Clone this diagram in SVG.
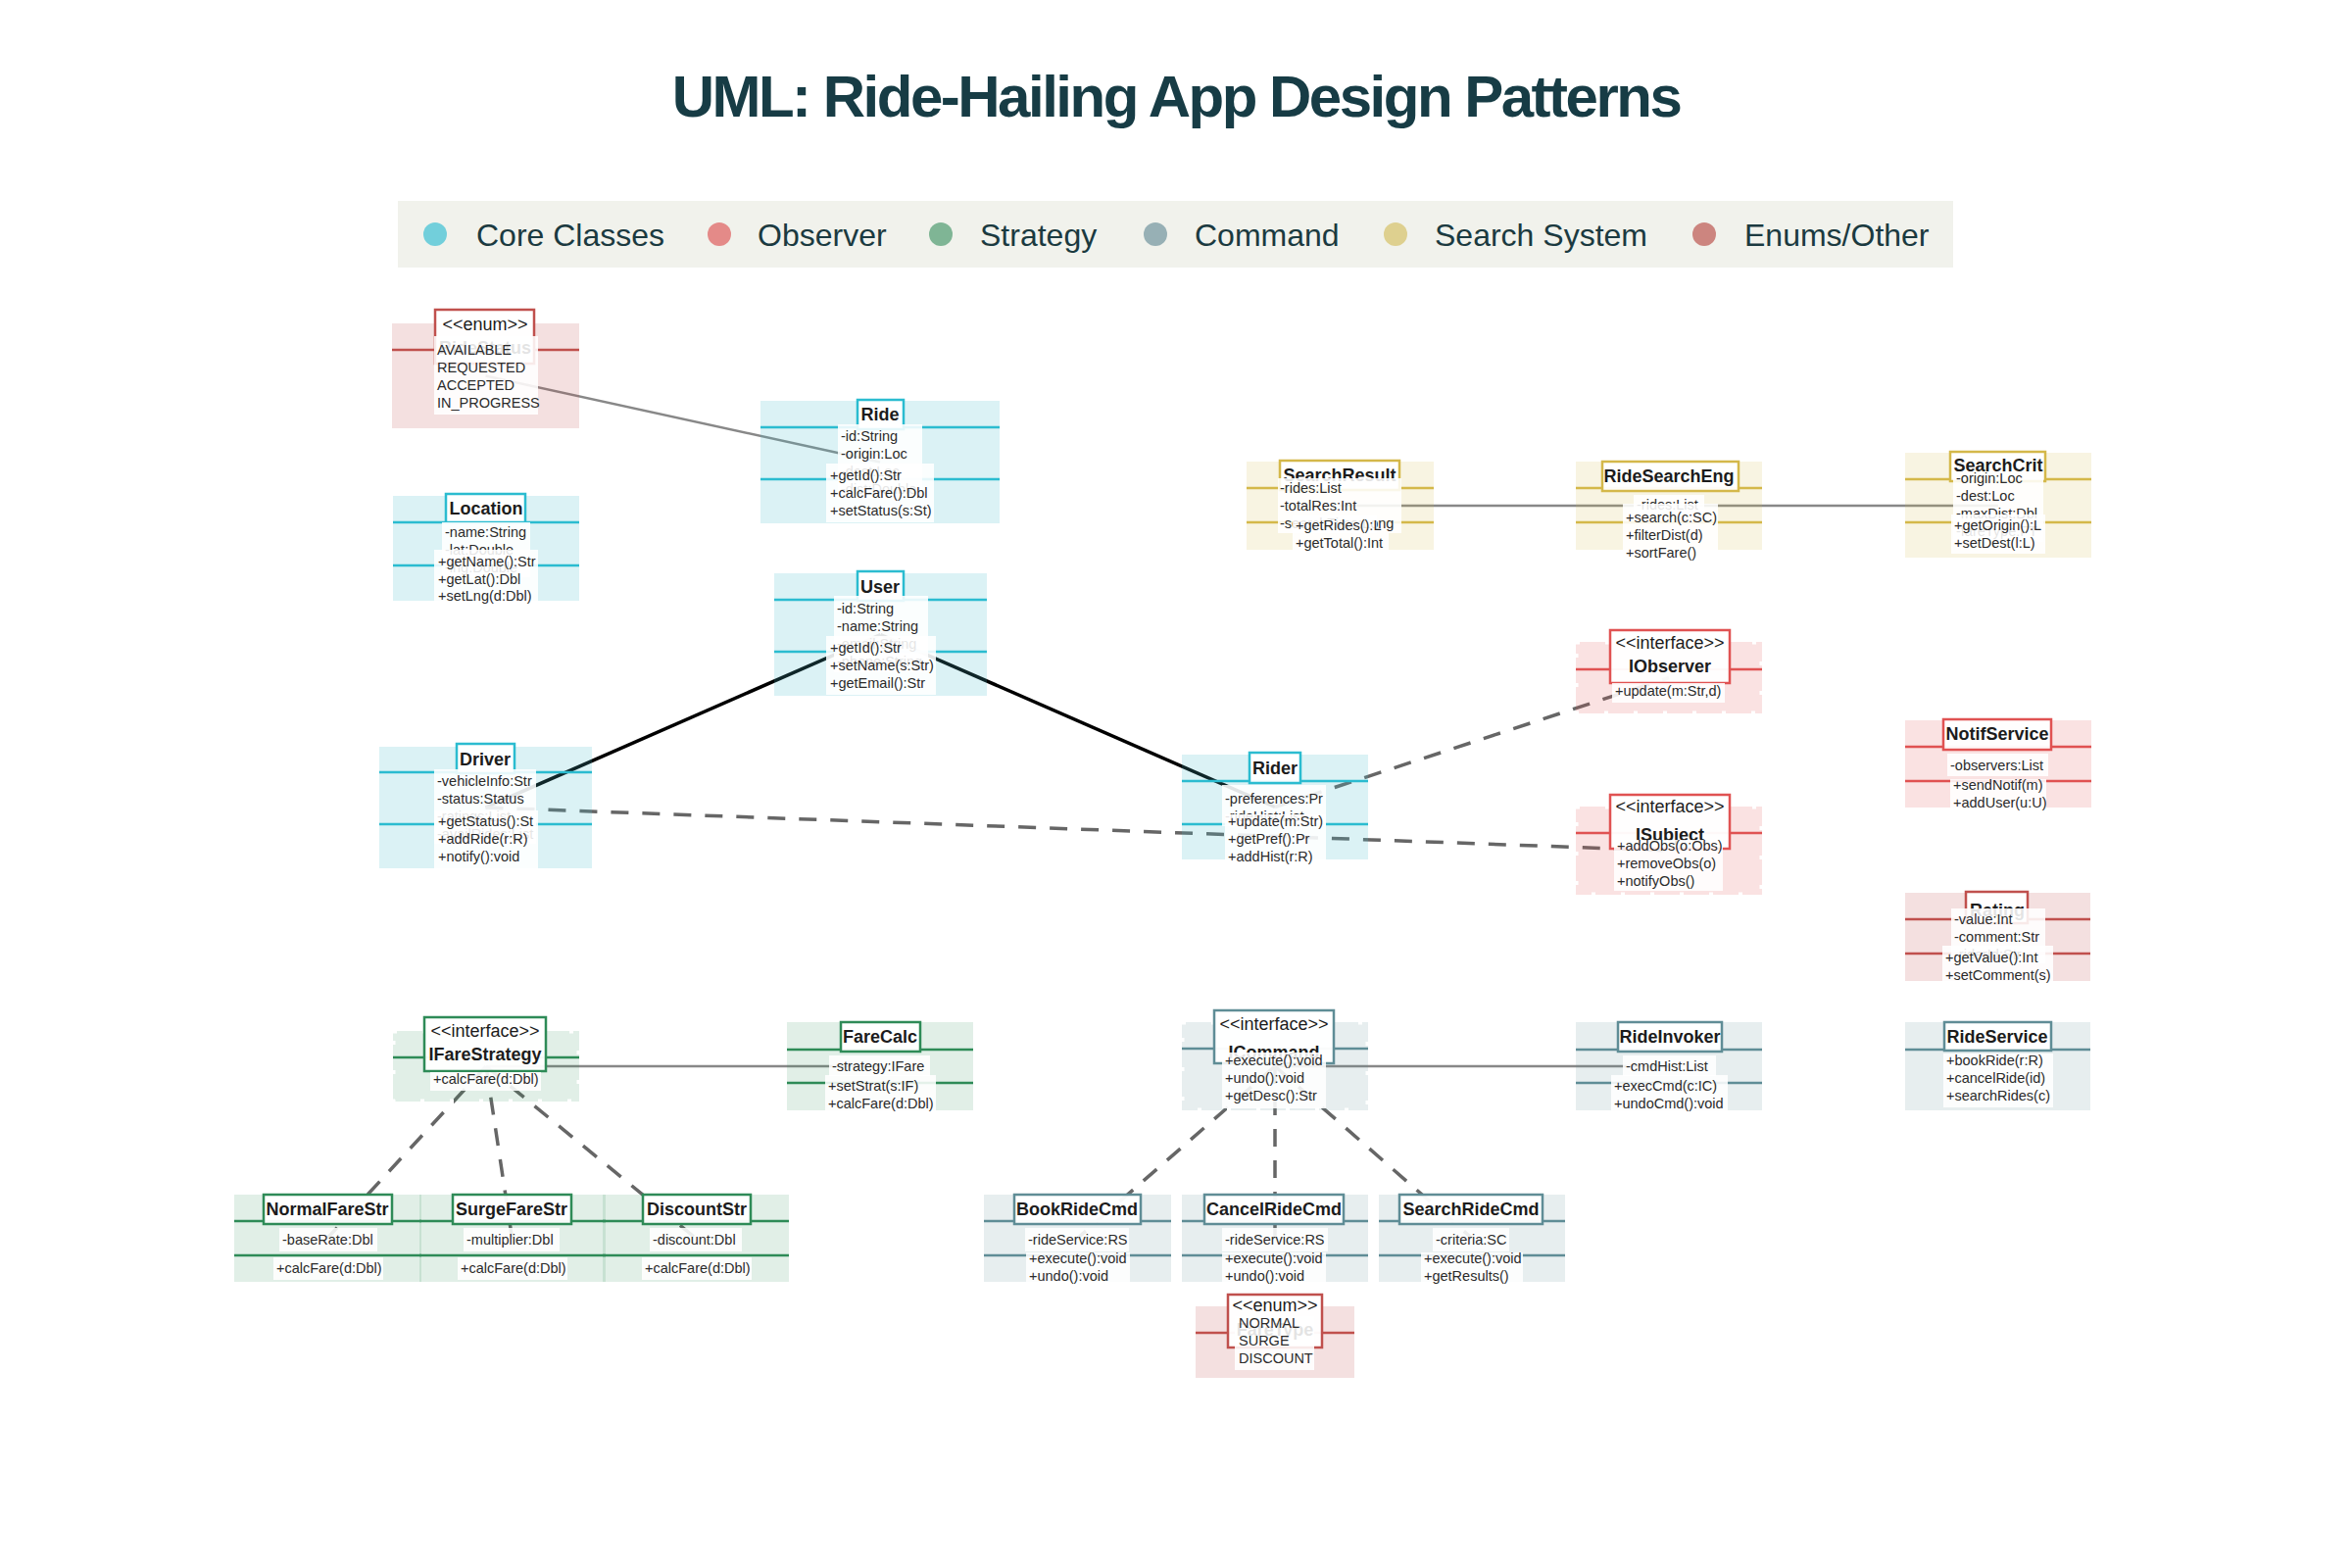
<svg xmlns="http://www.w3.org/2000/svg" width="2400" height="1600" viewBox="0 0 2400 1600">
<style>
text{font-family:"Liberation Sans",Arial,sans-serif}
.core .bg{fill:#4bbecd;fill-opacity:.2}.core .sep,.core .tb{stroke:#2bbcd0}
.obs .bg{fill:#e05252;fill-opacity:.17}.obs .sep,.obs .tb{stroke:#e05252}
.enm .bg{fill:#c04848;fill-opacity:.17}.enm .sep,.enm .tb{stroke:#c0504d}
.str .bg{fill:#2e8b57;fill-opacity:.14}.str .sep,.str .tb{stroke:#2e8b57}
.cmd .bg{fill:#5f8d96;fill-opacity:.15}.cmd .sep,.cmd .tb{stroke:#5f8d96}
.srch .bg{fill:#d4b84a;fill-opacity:.16}.srch .sep,.srch .tb{stroke:#d4b84a}
.sep{stroke-width:2.5}
.tb{fill:#fff;fill-opacity:.96;stroke-width:2.5}
.box{fill:#fff;fill-opacity:.88}
.jag{fill:none;stroke:#fff;stroke-width:5;stroke-dasharray:4 26}
.m{font-size:14.5px;fill:#2b2b2b}
.nm{font-size:18px;font-weight:bold;fill:#1c1c1c;text-anchor:middle}
.ster{font-size:18px;fill:#1c1c1c;text-anchor:middle}
.lg{font-size:32px;fill:#1b3a40}
.assoc{stroke:#888;stroke-width:2.5;fill:none}
.inh{stroke:#000;stroke-width:3.5;fill:none}
.dash{stroke:#666;stroke-width:3.5;stroke-dasharray:18 14;fill:none}
</style>
<rect width="2400" height="1600" fill="#fff"/>
<text x="1200" y="119" text-anchor="middle" font-size="60" font-weight="bold" letter-spacing="-2.5" fill="#173c45">UML: Ride-Hailing App Design Patterns</text>
<g id="legend">
<rect x="406" y="205" width="1587" height="68" fill="#f1f2ec"/>
<circle cx="444" cy="239" r="12" fill="#72cfdb"/><text class="lg" x="486" y="251">Core Classes</text>
<circle cx="734" cy="239" r="12" fill="#e48a88"/><text class="lg" x="773" y="251">Observer</text>
<circle cx="960" cy="239" r="12" fill="#7fb595"/><text class="lg" x="1000" y="251">Strategy</text>
<circle cx="1179" cy="239" r="12" fill="#97b0b5"/><text class="lg" x="1219" y="251">Command</text>
<circle cx="1424" cy="239" r="12" fill="#ded08f"/><text class="lg" x="1464" y="251">Search System</text>
<circle cx="1739" cy="239" r="12" fill="#cc857f"/><text class="lg" x="1780" y="251">Enums/Other</text>
</g>
<g id="connectors">
<line class="assoc" x1="495.5" y1="383.5" x2="898" y2="471.5"/>
<line class="inh" x1="495.5" y1="824" x2="898.5" y2="647.5"/>
<line class="inh" x1="1301" y1="823.5" x2="898.5" y2="647.5"/>
<line class="dash" x1="1301" y1="823.5" x2="1703" y2="691.5"/>
<line class="dash" x1="495.5" y1="824" x2="1703" y2="868"/>
<line class="assoc" x1="1703" y1="516" x2="1367.5" y2="516"/>
<line class="assoc" x1="1703" y1="516" x2="2039" y2="516"/>
<line class="assoc" x1="496" y1="1088" x2="898" y2="1088"/>
<line class="dash" x1="496" y1="1088" x2="334" y2="1263.5"/>
<line class="dash" x1="496" y1="1088" x2="522.5" y2="1263.5"/>
<line class="dash" x1="496" y1="1088" x2="710" y2="1263.5"/>
<line class="assoc" x1="1301" y1="1088" x2="1703" y2="1088"/>
<line class="dash" x1="1301" y1="1088" x2="1099.5" y2="1263.5"/>
<line class="dash" x1="1301" y1="1088" x2="1301" y2="1263.5"/>
<line class="dash" x1="1301" y1="1088" x2="1502" y2="1263.5"/>
</g>

<g id="RideStatus" class="enm">
<rect class="bg" x="400" y="330" width="191" height="107"/>
<line class="sep" x1="400" y1="357" x2="591" y2="357"/>
<rect class="tb" x="444" y="316" width="101" height="55"/>
<text class="ster" x="495" y="337">&lt;&lt;enum&gt;&gt;</text>
<text class="nm" x="495" y="361">RideStatus</text>
<rect class="box" x="443" y="343" width="106" height="80"/>
<text class="m" x="446" y="362">AVAILABLE</text>
<text class="m" x="446" y="380">REQUESTED</text>
<text class="m" x="446" y="398">ACCEPTED</text>
<text class="m" x="446" y="416">IN_PROGRESS</text>
</g>

<g id="Ride" class="core">
<rect class="bg" x="776" y="409" width="244" height="125"/>
<line class="sep" x1="776" y1="436" x2="1020" y2="436"/>
<line class="sep" x1="776" y1="489" x2="1020" y2="489"/>
<rect class="tb" x="875" y="408" width="47" height="30"/>
<text class="nm" x="898" y="429">Ride</text>
<rect class="box" x="855" y="433" width="86" height="76"/>
<text class="m" x="858" y="450">-id:String</text>
<text class="m" x="858" y="468">-origin:Loc</text>
<text class="m" x="858" y="486">-dest:Loc</text>
<text class="m" x="858" y="504">-dist:Double</text>
<rect class="box" x="843" y="473" width="110" height="60"/>
<text class="m" x="847" y="490">+getId():Str</text>
<text class="m" x="847" y="508">+calcFare():Dbl</text>
<text class="m" x="847" y="526">+setStatus(s:St)</text>
</g>

<g id="Location" class="core">
<rect class="bg" x="401" y="506" width="190" height="107"/>
<line class="sep" x1="401" y1="533" x2="591" y2="533"/>
<line class="sep" x1="401" y1="577" x2="591" y2="577"/>
<rect class="tb" x="455" y="504" width="81" height="29"/>
<text class="nm" x="496" y="525">Location</text>
<rect class="box" x="451" y="533" width="90" height="56"/>
<text class="m" x="454" y="548">-name:String</text>
<text class="m" x="454" y="566">-lat:Double</text>
<text class="m" x="454" y="584">-lng:Double</text>
<rect class="box" x="443" y="561" width="106" height="54"/>
<text class="m" x="447" y="578">+getName():Str</text>
<text class="m" x="447" y="596">+getLat():Dbl</text>
<text class="m" x="447" y="613">+setLng(d:Dbl)</text>
</g>

<g id="User" class="core">
<rect class="bg" x="790" y="585" width="217" height="125"/>
<line class="sep" x1="790" y1="612" x2="1007" y2="612"/>
<line class="sep" x1="790" y1="665" x2="1007" y2="665"/>
<rect class="tb" x="875" y="583" width="47" height="30"/>
<text class="nm" x="898" y="605">User</text>
<rect class="box" x="851" y="608" width="96" height="78"/>
<text class="m" x="854" y="626">-id:String</text>
<text class="m" x="854" y="644">-name:String</text>
<text class="m" x="854" y="662">-email:String</text>
<text class="m" x="854" y="680">-phone:String</text>
<rect class="box" x="843" y="649" width="112" height="60"/>
<text class="m" x="847" y="666">+getId():Str</text>
<text class="m" x="847" y="684">+setName(s:Str)</text>
<text class="m" x="847" y="702">+getEmail():Str</text>
</g>

<g id="Driver" class="core">
<rect class="bg" x="387" y="762" width="217" height="124"/>
<line class="sep" x1="387" y1="788" x2="604" y2="788"/>
<line class="sep" x1="387" y1="841" x2="604" y2="841"/>
<rect class="tb" x="466" y="759" width="59" height="30"/>
<text class="nm" x="495" y="781">Driver</text>
<rect class="box" x="443" y="785" width="104" height="76"/>
<text class="m" x="446" y="802">-vehicleInfo:Str</text>
<text class="m" x="446" y="820">-status:Status</text>
<text class="m" x="446" y="838">-ratings:List</text>
<text class="m" x="446" y="856">-availRides:List</text>
<rect class="box" x="443" y="827" width="106" height="59"/>
<text class="m" x="447" y="843">+getStatus():St</text>
<text class="m" x="447" y="861">+addRide(r:R)</text>
<text class="m" x="447" y="879">+notify():void</text>
</g>

<g id="Rider" class="core">
<rect class="bg" x="1206" y="770" width="190" height="107"/>
<line class="sep" x1="1206" y1="797" x2="1396" y2="797"/>
<line class="sep" x1="1206" y1="841" x2="1396" y2="841"/>
<rect class="tb" x="1275" y="768" width="52" height="31"/>
<text class="nm" x="1301" y="790">Rider</text>
<rect class="box" x="1247" y="801" width="106" height="42"/>
<text class="m" x="1250" y="820">-preferences:Pr</text>
<text class="m" x="1250" y="838">-rideHist:List</text>
<rect class="box" x="1250" y="831" width="103" height="48"/>
<text class="m" x="1253" y="843">+update(m:Str)</text>
<text class="m" x="1253" y="861">+getPref():Pr</text>
<text class="m" x="1253" y="879">+addHist(r:R)</text>
</g>

<g id="SearchResult" class="srch">
<rect class="bg" x="1272" y="471" width="191" height="90"/>
<line class="sep" x1="1272" y1="498" x2="1463" y2="498"/>
<line class="sep" x1="1272" y1="533" x2="1463" y2="533"/>
<rect class="tb" x="1306" y="470" width="122" height="30"/>
<text class="nm" x="1367" y="491">SearchResult</text>
<rect class="box" x="1304" y="488" width="126" height="56"/>
<text class="m" x="1306" y="503">-rides:List</text>
<text class="m" x="1306" y="521">-totalRes:Int</text>
<text class="m" x="1306" y="539">-searchTime:Long</text>
<rect class="box" x="1319" y="526" width="86" height="18"/>
<rect class="box" x="1319" y="544" width="98" height="20"/>
<text class="m" x="1322" y="541">+getRides():L</text>
<text class="m" x="1322" y="559">+getTotal():Int</text>
</g>

<g id="RideSearchEng" class="srch">
<rect class="bg" x="1608" y="471" width="190" height="90"/>
<line class="sep" x1="1608" y1="498" x2="1798" y2="498"/>
<line class="sep" x1="1608" y1="533" x2="1798" y2="533"/>
<rect class="tb" x="1635" y="471" width="139" height="30"/>
<text class="nm" x="1703" y="492">RideSearchEng</text>
<rect class="box" x="1667" y="505" width="72" height="20"/>
<text class="m" x="1670" y="520">-rides:List</text>
<rect class="box" x="1656" y="514" width="97" height="58"/>
<text class="m" x="1659" y="533">+search(c:SC)</text>
<text class="m" x="1659" y="551">+filterDist(d)</text>
<text class="m" x="1659" y="569">+sortFare()</text>
</g>

<g id="SearchCrit" class="srch">
<rect class="bg" x="1944" y="462" width="190" height="107"/>
<line class="sep" x1="1944" y1="489" x2="2134" y2="489"/>
<line class="sep" x1="1944" y1="533" x2="2134" y2="533"/>
<rect class="tb" x="1990" y="461" width="97" height="30"/>
<text class="nm" x="2039" y="481">SearchCrit</text>
<rect class="box" x="1993" y="487" width="92" height="66"/>
<text class="m" x="1996" y="493">-origin:Loc</text>
<text class="m" x="1996" y="511">-dest:Loc</text>
<text class="m" x="1996" y="529">-maxDist:Dbl</text>
<text class="m" x="1996" y="547">-fareType:FT</text>
<rect class="box" x="1991" y="525" width="96" height="40"/>
<text class="m" x="1994" y="541">+getOrigin():L</text>
<text class="m" x="1994" y="559">+setDest(l:L)</text>
</g>

<g id="IObserver" class="obs">
<rect class="bg" x="1608" y="655" width="190" height="73"/>
<rect class="jag" x="1608" y="655" width="190" height="73"/>
<line class="sep" x1="1608" y1="683" x2="1798" y2="683"/>
<rect class="tb" x="1643" y="643" width="122" height="54"/>
<text class="ster" x="1704" y="662">&lt;&lt;interface&gt;&gt;</text>
<text class="nm" x="1704" y="686">IObserver</text>
<rect class="box" x="1645" y="697" width="115" height="20"/>
<text class="m" x="1648" y="710">+update(m:Str,d)</text>
</g>

<g id="NotifService" class="obs">
<rect class="bg" x="1944" y="735" width="190" height="89"/>
<line class="sep" x1="1944" y1="762" x2="2134" y2="762"/>
<line class="sep" x1="1944" y1="797" x2="2134" y2="797"/>
<rect class="tb" x="1983" y="734" width="110" height="31"/>
<text class="nm" x="2038" y="755">NotifService</text>
<rect class="box" x="1987" y="769" width="103" height="23"/>
<text class="m" x="1990" y="786">-observers:List</text>
<rect class="box" x="1990" y="795" width="98" height="32"/>
<text class="m" x="1993" y="806">+sendNotif(m)</text>
<text class="m" x="1993" y="824">+addUser(u:U)</text>
</g>

<g id="ISubject" class="obs">
<rect class="bg" x="1608" y="823" width="190" height="90"/>
<rect class="jag" x="1608" y="823" width="190" height="90"/>
<line class="sep" x1="1608" y1="850" x2="1798" y2="850"/>
<rect class="tb" x="1643" y="811" width="122" height="55"/>
<text class="ster" x="1704" y="829">&lt;&lt;interface&gt;&gt;</text>
<text class="nm" x="1704" y="858">ISubject</text>
<rect class="box" x="1647" y="857" width="111" height="52"/>
<text class="m" x="1650" y="868">+addObs(o:Obs)</text>
<text class="m" x="1650" y="886">+removeObs(o)</text>
<text class="m" x="1650" y="904">+notifyObs()</text>
</g>

<g id="Rating" class="enm">
<rect class="bg" x="1944" y="911" width="189" height="90"/>
<line class="sep" x1="1944" y1="938" x2="2133" y2="938"/>
<line class="sep" x1="1944" y1="973" x2="2133" y2="973"/>
<rect class="tb" x="2006" y="910" width="63" height="32"/>
<text class="nm" x="2038" y="935">Rating</text>
<rect class="box" x="1991" y="927" width="96" height="56"/>
<text class="m" x="1994" y="943">-value:Int</text>
<text class="m" x="1994" y="961">-comment:Str</text>
<text class="m" x="1994" y="979">-riderId:Str</text>
<rect class="box" x="1982" y="965" width="113" height="38"/>
<text class="m" x="1985" y="982">+getValue():Int</text>
<text class="m" x="1985" y="1000">+setComment(s)</text>
</g>

<g id="RideService" class="cmd">
<rect class="bg" x="1944" y="1043" width="189" height="90"/>
<line class="sep" x1="1944" y1="1071" x2="2133" y2="1071"/>
<rect class="tb" x="1984" y="1043" width="109" height="29"/>
<text class="nm" x="2038" y="1064">RideService</text>
<rect class="box" x="1983" y="1075" width="112" height="55"/>
<text class="m" x="1986" y="1087">+bookRide(r:R)</text>
<text class="m" x="1986" y="1105">+cancelRide(id)</text>
<text class="m" x="1986" y="1123">+searchRides(c)</text>
</g>

<g id="IFareStrategy" class="str">
<rect class="bg" x="401" y="1052" width="190" height="72"/>
<rect class="jag" x="401" y="1052" width="190" height="72"/>
<line class="sep" x1="401" y1="1079" x2="591" y2="1079"/>
<rect class="tb" x="433" y="1038" width="124" height="55"/>
<text class="ster" x="495" y="1058">&lt;&lt;interface&gt;&gt;</text>
<text class="nm" x="495" y="1082">IFareStrategy</text>
<rect class="box" x="439" y="1094" width="113" height="19"/>
<text class="m" x="442" y="1106">+calcFare(d:Dbl)</text>
</g>

<g id="FareCalc" class="str">
<rect class="bg" x="803" y="1043" width="190" height="90"/>
<line class="sep" x1="803" y1="1071" x2="993" y2="1071"/>
<line class="sep" x1="803" y1="1105" x2="993" y2="1105"/>
<rect class="tb" x="858" y="1043" width="81" height="30"/>
<text class="nm" x="898" y="1064">FareCalc</text>
<rect class="box" x="846" y="1077" width="103" height="21"/>
<text class="m" x="849" y="1093">-strategy:IFare</text>
<rect class="box" x="842" y="1097" width="113" height="36"/>
<text class="m" x="845" y="1113">+setStrat(s:IF)</text>
<text class="m" x="845" y="1131">+calcFare(d:Dbl)</text>
</g>

<g id="NormalFareStr" class="str">
<rect class="bg" x="239" y="1219" width="191" height="89"/>
<line class="sep" x1="239" y1="1246" x2="430" y2="1246"/>
<line class="sep" x1="239" y1="1281" x2="430" y2="1281"/>
<rect class="tb" x="269" y="1219" width="131" height="30"/>
<text class="nm" x="334" y="1240">NormalFareStr</text>
<rect class="box" x="285" y="1253" width="100" height="24"/>
<text class="m" x="288" y="1270">-baseRate:Dbl</text>
<rect class="box" x="279" y="1283" width="112" height="23"/>
<text class="m" x="282" y="1299">+calcFare(d:Dbl)</text>
</g>

<g id="SurgeFareStr" class="str">
<rect class="bg" x="428" y="1219" width="190" height="89"/>
<line class="sep" x1="428" y1="1246" x2="618" y2="1246"/>
<line class="sep" x1="428" y1="1281" x2="618" y2="1281"/>
<rect class="tb" x="462" y="1219" width="121" height="30"/>
<text class="nm" x="522" y="1240">SurgeFareStr</text>
<rect class="box" x="473" y="1253" width="98" height="24"/>
<text class="m" x="476" y="1270">-multiplier:Dbl</text>
<rect class="box" x="467" y="1283" width="112" height="23"/>
<text class="m" x="470" y="1299">+calcFare(d:Dbl)</text>
</g>

<g id="DiscountStr" class="str">
<rect class="bg" x="615" y="1219" width="190" height="89"/>
<line class="sep" x1="615" y1="1246" x2="805" y2="1246"/>
<line class="sep" x1="615" y1="1281" x2="805" y2="1281"/>
<rect class="tb" x="656" y="1219" width="110" height="30"/>
<text class="nm" x="711" y="1240">DiscountStr</text>
<rect class="box" x="663" y="1253" width="94" height="24"/>
<text class="m" x="666" y="1270">-discount:Dbl</text>
<rect class="box" x="655" y="1283" width="112" height="23"/>
<text class="m" x="658" y="1299">+calcFare(d:Dbl)</text>
</g>

<g id="ICommand" class="cmd">
<rect class="bg" x="1206" y="1043" width="190" height="90"/>
<rect class="jag" x="1206" y="1043" width="190" height="90"/>
<line class="sep" x1="1206" y1="1070" x2="1396" y2="1070"/>
<rect class="tb" x="1239" y="1031" width="122" height="54"/>
<text class="ster" x="1300" y="1051">&lt;&lt;interface&gt;&gt;</text>
<text class="nm" x="1300" y="1080">ICommand</text>
<rect class="box" x="1247" y="1074" width="106" height="57"/>
<text class="m" x="1250" y="1087">+execute():void</text>
<text class="m" x="1250" y="1105">+undo():void</text>
<text class="m" x="1250" y="1123">+getDesc():Str</text>
</g>

<g id="RideInvoker" class="cmd">
<rect class="bg" x="1608" y="1043" width="190" height="90"/>
<line class="sep" x1="1608" y1="1071" x2="1798" y2="1071"/>
<line class="sep" x1="1608" y1="1105" x2="1798" y2="1105"/>
<rect class="tb" x="1651" y="1043" width="106" height="30"/>
<text class="nm" x="1704" y="1064">RideInvoker</text>
<rect class="box" x="1656" y="1077" width="95" height="21"/>
<text class="m" x="1659" y="1093">-cmdHist:List</text>
<rect class="box" x="1644" y="1097" width="119" height="36"/>
<text class="m" x="1647" y="1113">+execCmd(c:IC)</text>
<text class="m" x="1647" y="1131">+undoCmd():void</text>
</g>

<g id="BookRideCmd" class="cmd">
<rect class="bg" x="1004" y="1219" width="191" height="89"/>
<line class="sep" x1="1004" y1="1246" x2="1195" y2="1246"/>
<line class="sep" x1="1004" y1="1281" x2="1195" y2="1281"/>
<rect class="tb" x="1035" y="1219" width="129" height="30"/>
<text class="nm" x="1099" y="1240">BookRideCmd</text>
<rect class="box" x="1046" y="1253" width="106" height="24"/>
<text class="m" x="1049" y="1270">-rideService:RS</text>
<rect class="box" x="1047" y="1278" width="106" height="30"/>
<text class="m" x="1050" y="1289">+execute():void</text>
<text class="m" x="1050" y="1307">+undo():void</text>
</g>

<g id="CancelRideCmd" class="cmd">
<rect class="bg" x="1206" y="1219" width="190" height="89"/>
<line class="sep" x1="1206" y1="1246" x2="1396" y2="1246"/>
<line class="sep" x1="1206" y1="1281" x2="1396" y2="1281"/>
<rect class="tb" x="1229" y="1219" width="142" height="30"/>
<text class="nm" x="1300" y="1240">CancelRideCmd</text>
<rect class="box" x="1247" y="1253" width="108" height="24"/>
<text class="m" x="1250" y="1270">-rideService:RS</text>
<rect class="box" x="1247" y="1278" width="106" height="30"/>
<text class="m" x="1250" y="1289">+execute():void</text>
<text class="m" x="1250" y="1307">+undo():void</text>
</g>

<g id="SearchRideCmd" class="cmd">
<rect class="bg" x="1407" y="1219" width="190" height="89"/>
<line class="sep" x1="1407" y1="1246" x2="1597" y2="1246"/>
<line class="sep" x1="1407" y1="1281" x2="1597" y2="1281"/>
<rect class="tb" x="1428" y="1219" width="146" height="30"/>
<text class="nm" x="1501" y="1240">SearchRideCmd</text>
<rect class="box" x="1462" y="1253" width="78" height="24"/>
<text class="m" x="1465" y="1270">-criteria:SC</text>
<rect class="box" x="1450" y="1278" width="104" height="30"/>
<text class="m" x="1453" y="1289">+execute():void</text>
<text class="m" x="1453" y="1307">+getResults()</text>
</g>

<g id="FareType" class="enm">
<rect class="bg" x="1220" y="1333" width="162" height="73"/>
<line class="sep" x1="1220" y1="1360" x2="1382" y2="1360"/>
<rect class="tb" x="1253" y="1321" width="96" height="54"/>
<text class="ster" x="1301" y="1338">&lt;&lt;enum&gt;&gt;</text>
<text class="nm" x="1301" y="1363">FareType</text>
<rect class="box" x="1260" y="1343" width="81" height="55"/>
<text class="m" x="1264" y="1355">NORMAL</text>
<text class="m" x="1264" y="1373">SURGE</text>
<text class="m" x="1264" y="1391">DISCOUNT</text>
</g>
</svg>
